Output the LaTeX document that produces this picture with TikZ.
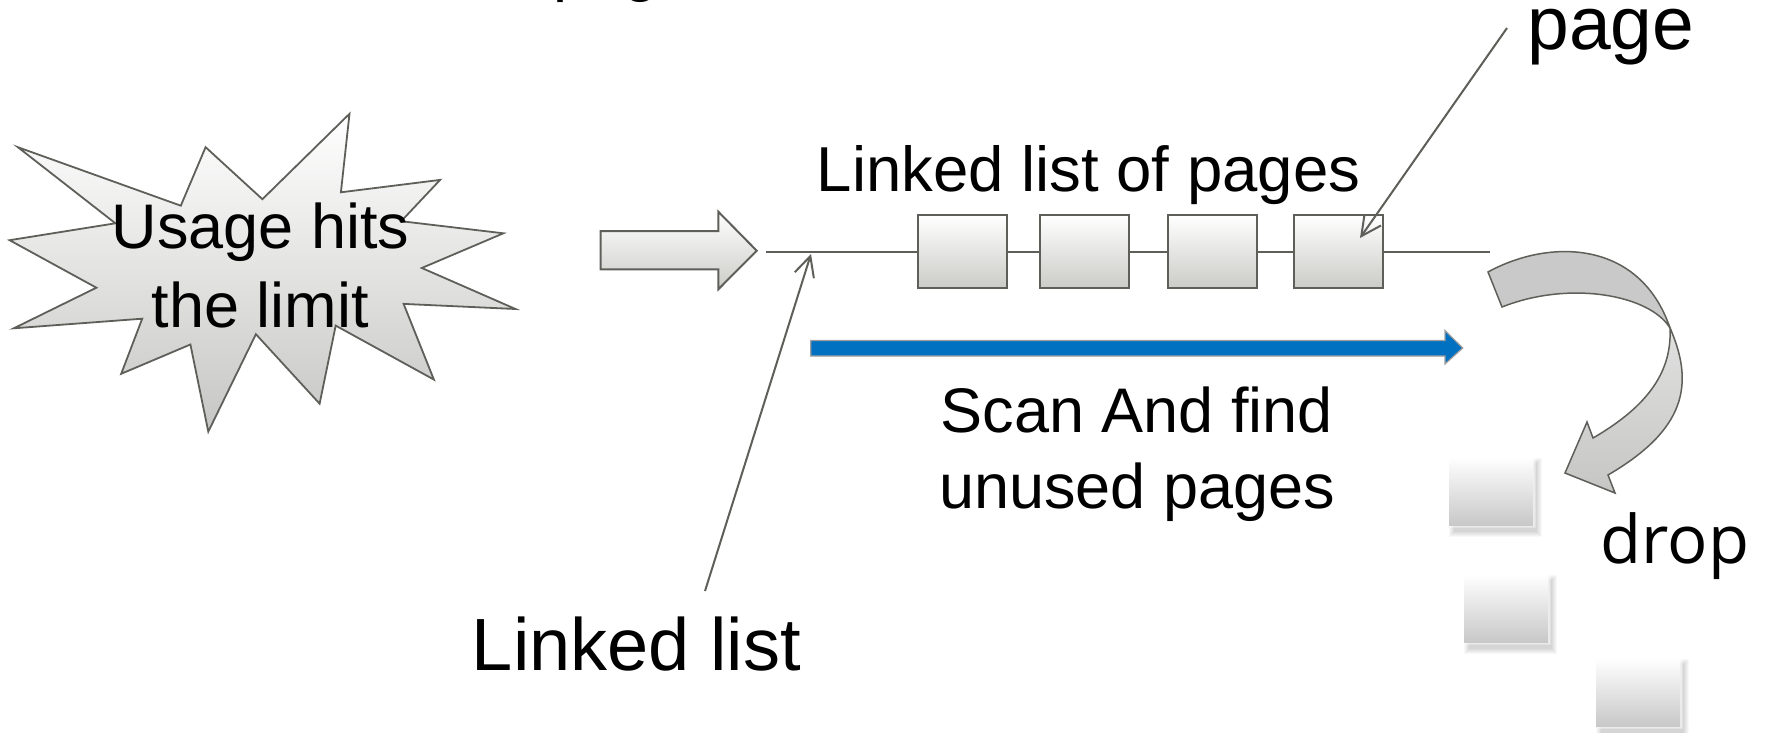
\documentclass[tikz,border=0pt]{standalone}
\usepackage{fontspec}
\setmainfont{Liberation Sans}
\newfontfamily\dropfont{Open Sans}
\usetikzlibrary{arrows.meta}
\definecolor{edgegray}{HTML}{5F5F5A}
\definecolor{boxbot}{HTML}{CBCBC7}
\definecolor{starbot}{HTML}{C6C6C4}
\definecolor{scanblue}{HTML}{0070C0}
\definecolor{curlgray}{HTML}{C9C9C9}
\definecolor{fadebot}{HTML}{C8C8C8}
\tikzset{
  pagebox/.style={draw=edgegray, line width=2pt, top color=white, bottom color=boxbot,
    minimum width=89pt, minimum height=73pt, inner sep=0pt},
  link/.style={draw=edgegray, line width=2pt},
  ptr/.style={draw=edgegray, line width=2pt, -{Straight Barb[length=20pt,width=20pt,line width=2pt]}},
  txt/.style={inner sep=0pt, anchor=base, font=\fontsize{63}{76}\selectfont},
  bigtxt/.style={inner sep=0pt, anchor=base, font=\fontsize{74}{80}\selectfont},
  fadebox/.style={top color=white, bottom color=fadebot, minimum width=84pt, minimum height=68pt, inner sep=0pt}
}
\begin{document}
\begin{tikzpicture}[x=1pt,y=-1pt]
\useasboundingbox (0,0) rectangle (1766,733);
\fill[white] (0,0) rectangle (1766,733);

% clipped text fragment at the top edge
\begin{scope}
\clip (0,0) rectangle (1766,733);
\node[txt, anchor=base west] (toptext) at (553,-10) {page};
\end{scope}

% explosion star
\path[draw=edgegray, line width=1.8pt, top color=white, bottom color=starbot]
 (17.9,147.2) -- (180.8,205.7) -- (205.6,147.2) -- (262.4,199.2) -- (349.5,113.8)
 -- (340.9,192.3) -- (440.1,179.9) -- (401.2,221.2) -- (503.4,233.3) -- (421.8,268.0)
 -- (515.5,309.0) -- (403.6,303.9) -- (433.9,379.6) -- (335.7,325.6) -- (319.6,403.7)
 -- (255.9,334.2) -- (208.3,431.6) -- (190.4,344.5) -- (121.2,373.8) -- (142.2,318.7)
 -- (13.8,328.3) -- (96.4,287.7) -- (9.6,240.2) -- (115.4,223.3) -- cycle;
\node[txt] (usage1) at (260.5,248) {Usage hits};
\node[txt] (usage2) at (260.5,327) {the limit};

% hollow arrow
\path[draw=edgegray, line width=2pt, top color=white, bottom color=boxbot, line join=miter]
 (600.7,231) -- (718.3,231) -- (718.3,211.7) -- (756.7,250.7) -- (718.3,289.3)
 -- (718.3,269.3) -- (600.7,269.3) -- cycle;

% linked list
\node[pagebox] (b1) at (962.2,251.7) {};
\node[pagebox] (b2) at (1084.7,251.7) {};
\node[pagebox] (b3) at (1212.8,251.7) {};
\node[pagebox] (b4) at (1338.7,251.7) {};
\coordinate (lstart) at (766,251.7);
\coordinate (lend) at (1490,251.7);
\draw[link] (lstart) -- (b1) -- (b2) -- (b3) -- (b4) -- (lend);

\node[txt, font=\fontsize{63.5}{76}\selectfont] (llp) at (1088.5,191) {Linked list of pages};

% pointers
\node[bigtxt, font=\fontsize{75}{80}\selectfont] (pagelbl) at (1611,50) {page};
\coordinate (pgtail) at (1507,28);
\coordinate (pgtip) at (1360,238);
\draw[ptr] (pgtail) -- (pgtip);

\node[bigtxt] (lllbl) at (636.5,670) {Linked list};
\coordinate (lltail) at (705,591);
\coordinate (lltip) at (811,254);
\draw[ptr] (lltail) -- (lltip);

% blue scan arrow
\path[fill=scanblue, draw=gray!75, line width=1.2pt]
 (810.7,340.5) -- (1445,340.5) -- (1445,330.5) -- (1462.7,348) -- (1445,364)
 -- (1445,356) -- (810.7,356) -- cycle;
\node[txt] (scan1) at (1136.7,432.3) {Scan And find};
\node[txt] (scan2) at (1137,508.3) {unused pages};

% curved drop arrow
\path[fill=curlgray, draw=edgegray, line width=1.5pt]
 (1488,272) .. controls (1550,238) and (1640,240) .. (1670,328)
 .. controls (1650,295) and (1570,280) .. (1502,307) -- cycle;
\path[draw=edgegray, line width=1.5pt, top color=white!88!black, bottom color=starbot]
 (1670,328) .. controls (1695,385) and (1685,430) .. (1608,475)
 -- (1615,493) -- (1565,473) -- (1587,422) -- (1593,438)
 .. controls (1650,405) and (1672,370) .. (1670,328) -- cycle;

% dropped pages (soft edges)
\foreach \cx/\cy/\nm in {1491/491/d1, 1506/608/d2, 1638/692/d3}{
  \foreach \g in {1,...,6}{
    \fill[black, opacity=0.028] (\cx-42-\g+6,\cy-34-\g+7) rectangle (\cx+42+\g+3,\cy+34+\g+6);
  }
  \foreach \g in {1,...,3}{
    \fill[white, opacity=0.3] (\cx-42-\g,\cy-34-\g) rectangle (\cx+42+\g,\cy+34+\g);
  }
  \node[fadebox] (\nm) at (\cx,\cy) {};
}
\node[inner sep=0pt, anchor=base, font=\dropfont\fontsize{67}{80}\selectfont] (droplbl) at (1675,563) {drop};
\end{tikzpicture}
\end{document}
